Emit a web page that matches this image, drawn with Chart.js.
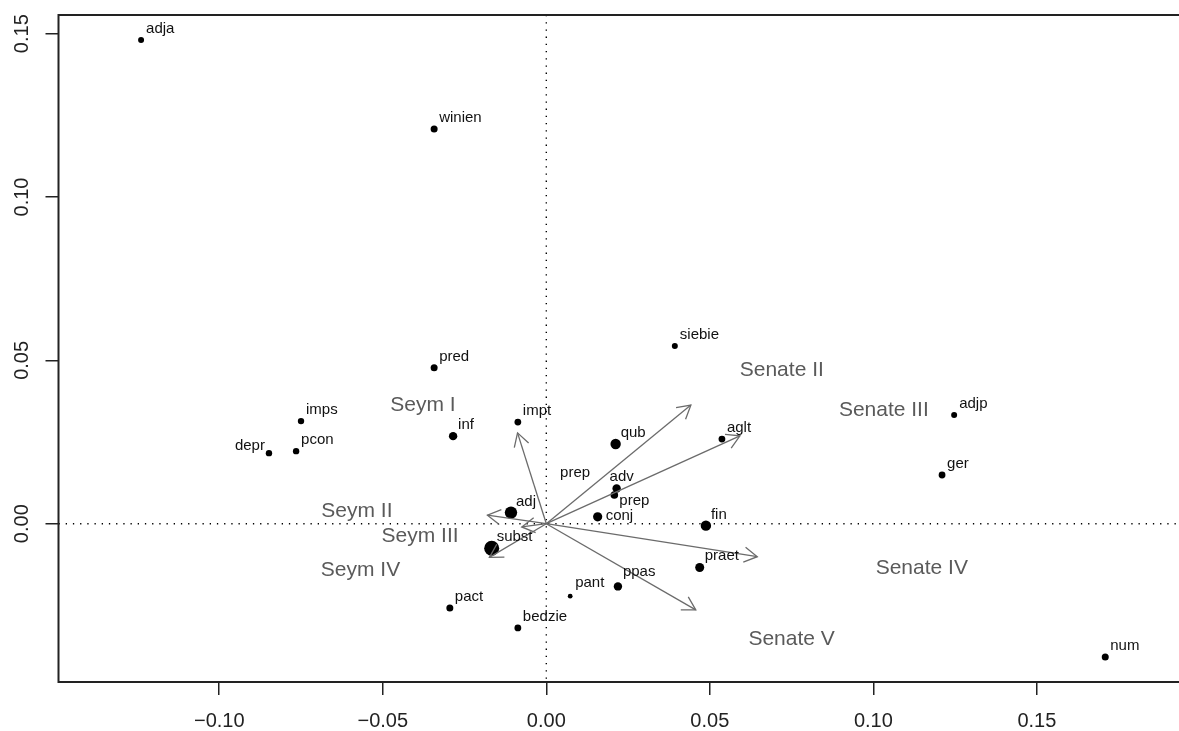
<!DOCTYPE html>
<html>
<head>
<meta charset="utf-8">
<script src="https://cdn.jsdelivr.net/npm/chart.js@4.4.1/dist/chart.umd.min.js"></script>
<style>
  html, body { margin: 0; padding: 0; background: #fff; }
  #wrap { width: 1179px; height: 731px; position: relative; }
</style>
</head>
<body>
<div id="wrap"><canvas id="caChart"></canvas></div>
<script>
// parts of speech (row points)
const posNames = ['adja', 'winien', 'siebie', 'pred', 'imps', 'pcon', 'depr', 'inf', 'impt', 'qub',
    'aglt', 'adjp', 'ger', 'adv', 'prep', 'conj', 'adj', 'subst', 'fin', 'praet',
    'ppas', 'pant', 'pact', 'bedzie', 'num'];
const posX = [-0.1239, -0.0343, 0.0393, -0.0343, -0.0750, -0.0765, -0.0848, -0.0285, -0.0087, 0.0212,
    0.0537, 0.1247, 0.1210, 0.0215, 0.0208, 0.0157, -0.0108, -0.0167, 0.0488, 0.0469,
    0.0219, 0.0073, -0.0295, -0.0087, 0.1709];
const posY = [0.1481, 0.1208, 0.0544, 0.0477, 0.0314, 0.0222, 0.0216, 0.0268, 0.0311, 0.0244,
    0.0259, 0.0333, 0.0149, 0.0108, 0.0088, 0.0021, 0.0034, -0.0075, -0.0006, -0.0134,
    -0.0192, -0.0222, -0.0258, -0.0319, -0.0408];

// corpora (column arrows)
const corpusNames = ['Seym I', 'Seym II', 'Seym III', 'Seym IV', 'Senate II', 'Senate III', 'Senate IV', 'Senate V'];
const arrowX = [-0.0088, -0.0180, -0.0075, -0.0174, 0.0442, 0.0592, 0.0645, 0.0457];
const arrowY = [0.0278, 0.0026, -0.0010, -0.0103, 0.0363, 0.0269, -0.0101, -0.0264];
const corpusLabelX = [-0.0377, -0.0579, -0.0386, -0.0568, 0.0720, 0.1032, 0.1148, 0.0750];
const corpusLabelY = [0.0369, 0.0042, -0.0032, -0.0136, 0.0476, 0.0353, -0.0132, -0.0348];

// loose label without a point
const extraNames = ['prep'];
const extraX = [0.0042];
const extraY = [0.0144];

const xTicks = [-0.10, -0.05, 0, 0.05, 0.10, 0.15];
const xTickLabels = ['\u22120.10', '\u22120.05', '0.00', '0.05', '0.10', '0.15'];
const yTicks = [0, 0.05, 0.10, 0.15];
const yTickLabels = ['0.00', '0.05', '0.10', '0.15'];

// styling
const FONT = "'Liberation Sans', Arial, sans-serif";
const dotRadius = [3, 3.5, 3, 3.5, 3.2, 3.2, 3.2, 4.2, 3.4, 5.2,
    3.4, 3, 3.4, 4.2, 3.8, 4.6, 6.2, 7.5, 5.2, 4.5,
    4.2, 2.4, 3.5, 3.4, 3.5];
const labelShift = {
    depr: { dx: -4, dy: -3, align: 'right' },
    adv: { dx: -7 },
    prep: { dy: 10 },
    conj: { dx: 8, dy: 3 },
    ppas: { dy: -10 },
    pant: { dy: -9 }
};

const arrowSets = corpusNames.map((name, i) => ({
    type: 'line',
    label: name,
    data: [{ x: 0, y: 0 }, { x: arrowX[i], y: arrowY[i] }],
    borderColor: '#6b6b6b',
    borderWidth: 1.3,
    pointRadius: 0,
    fill: false,
    order: 0
}));

const pointSet = {
    type: 'scatter',
    label: 'pos',
    data: posNames.map((n, i) => ({ x: posX[i], y: posY[i] })),
    backgroundColor: '#000',
    borderWidth: 0,
    pointRadius: dotRadius,
    pointHoverRadius: dotRadius,
    order: 1
};

const biplotDecor = {
    id: 'biplotDecor',
    beforeDatasetsDraw(chart) {
        const { ctx, chartArea: a, scales } = chart;
        const x0 = scales.x.getPixelForValue(0);
        const y0 = scales.y.getPixelForValue(0);
        ctx.save();
        ctx.strokeStyle = '#000';
        ctx.lineWidth = 1.4;
        ctx.setLineDash([1.3, 5.9]);
        ctx.beginPath();
        ctx.moveTo(x0, a.top);
        ctx.lineTo(x0, a.bottom);
        ctx.moveTo(a.left, y0);
        ctx.lineTo(a.right, y0);
        ctx.stroke();
        ctx.restore();
    },
    afterDatasetsDraw(chart) {
        const { ctx, scales } = chart;
        ctx.save();

        // arrow heads
        ctx.strokeStyle = '#6b6b6b';
        ctx.lineWidth = 1.3;
        corpusNames.forEach((n, i) => {
            const meta = chart.getDatasetMeta(i);
            const p0 = meta.data[0], p1 = meta.data[1];
            const ang = Math.atan2(p1.y - p0.y, p1.x - p0.x);
            const len = 15, spread = Math.PI / 6;
            ctx.beginPath();
            ctx.moveTo(p1.x - len * Math.cos(ang - spread), p1.y - len * Math.sin(ang - spread));
            ctx.lineTo(p1.x, p1.y);
            ctx.lineTo(p1.x - len * Math.cos(ang + spread), p1.y - len * Math.sin(ang + spread));
            ctx.stroke();
        });

        // point labels
        ctx.fillStyle = '#111';
        ctx.font = '15px ' + FONT;
        ctx.textBaseline = 'alphabetic';
        posNames.forEach((n, i) => {
            const s = Object.assign({ dx: 5, dy: -7, align: 'left' }, labelShift[n] || {});
            ctx.textAlign = s.align;
            ctx.fillText(n, scales.x.getPixelForValue(posX[i]) + s.dx, scales.y.getPixelForValue(posY[i]) + s.dy);
        });
        ctx.textAlign = 'left';
        extraNames.forEach((n, i) => {
            ctx.fillText(n, scales.x.getPixelForValue(extraX[i]), scales.y.getPixelForValue(extraY[i]));
        });

        // corpus labels
        ctx.fillStyle = '#5a5a5a';
        ctx.font = '21px ' + FONT;
        ctx.textAlign = 'center';
        corpusNames.forEach((n, i) => {
            ctx.fillText(n, scales.x.getPixelForValue(corpusLabelX[i]), scales.y.getPixelForValue(corpusLabelY[i]) + 7.5);
        });
        ctx.restore();
    },
    afterDraw(chart) {
        const { ctx, chartArea: a, scales } = chart;
        ctx.save();
        ctx.strokeStyle = '#222';
        ctx.lineWidth = 2;
        ctx.beginPath();
        ctx.moveTo(a.right + 2, a.top);
        ctx.lineTo(a.left, a.top);
        ctx.lineTo(a.left, a.bottom);
        ctx.lineTo(a.right + 2, a.bottom);
        ctx.stroke();

        // y tick labels, rotated like base R
        ctx.fillStyle = '#222';
        ctx.font = '20px ' + FONT;
        ctx.textAlign = 'center';
        ctx.textBaseline = 'alphabetic';
        yTicks.forEach((v, i) => {
            const y = scales.y.getPixelForValue(v);
            ctx.save();
            ctx.translate(27.5, y);
            ctx.rotate(-Math.PI / 2);
            ctx.fillText(yTickLabels[i], 0, 0);
            ctx.restore();
        });
        ctx.restore();
    }
};

new Chart(document.getElementById('caChart'), {
    data: { datasets: [...arrowSets, pointSet] },
    options: {
        responsive: true,
        maintainAspectRatio: false,
        animation: false,
        layout: { autoPadding: false, padding: { top: 15, right: 0, left: 0, bottom: 0 } },
        plugins: { legend: { display: false }, tooltip: { enabled: false } },
        scales: {
            x: {
                type: 'linear',
                min: -0.14915,
                max: 0.19345,
                afterBuildTicks: s => { s.ticks = xTicks.map(v => ({ value: v })); },
                afterFit: s => { s.height = 49; },
                ticks: {
                    callback: (v, i) => xTickLabels[i],
                    font: { size: 20, family: FONT },
                    color: '#222',
                    padding: 14,
                    maxRotation: 0,
                    autoSkip: false
                },
                grid: { drawOnChartArea: false, tickLength: 13, color: '#222', lineWidth: 1.5 },
                border: { display: false }
            },
            y: {
                type: 'linear',
                min: -0.04846,
                max: 0.15572,
                afterBuildTicks: s => { s.ticks = yTicks.map(v => ({ value: v })); },
                afterFit: s => { s.width = 58.5; },
                ticks: { callback: () => '', autoSkip: false },
                grid: { drawOnChartArea: false, tickLength: 13, color: '#222', lineWidth: 1.5 },
                border: { display: false }
            }
        }
    },
    plugins: [biplotDecor]
});
</script>
</body>
</html>
